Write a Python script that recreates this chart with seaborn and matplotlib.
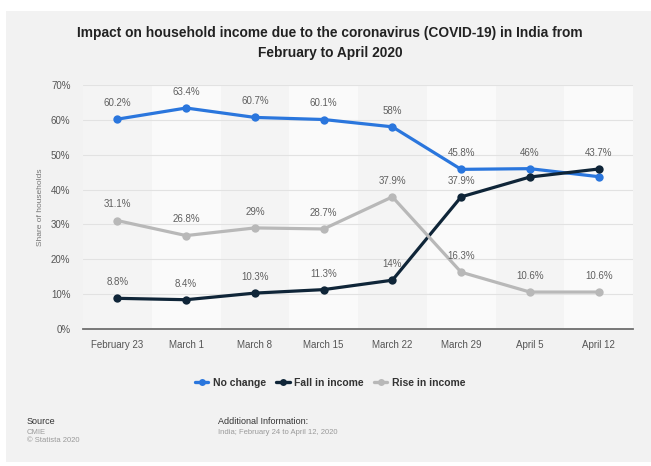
import matplotlib
matplotlib.use("Agg")
import matplotlib.pyplot as plt
import seaborn as sns
import pandas as pd
from matplotlib.patches import Rectangle
from matplotlib.lines import Line2D

categories = ["February 23", "March 1", "March 8", "March 15", "March 22",
              "March 29", "April 5", "April 12"]
no_change = [60.2, 63.4, 60.7, 60.1, 58.0, 45.8, 46.0, 43.7]
fall_in_income = [8.8, 8.4, 10.3, 11.3, 14.0, 37.9, 43.6, 45.9]
rise_in_income = [31.1, 26.8, 29.0, 28.7, 37.9, 16.3, 10.6, 10.6]
y_ticks = [0, 10, 20, 30, 40, 50, 60, 70]
series_names = ["No change", "Fall in income", "Rise in income"]
colors = {"No change": "#2a76dd", "Fall in income": "#0f2538", "Rise in income": "#b8b8b8"}

sns.set_theme(style="white")
plt.rcParams["font.family"] = ["Liberation Sans", "DejaVu Sans"]

rows = []
for name, vals in zip(series_names, [no_change, fall_in_income, rise_in_income]):
    for i, (c, v) in enumerate(zip(categories, vals)):
        rows.append({"x": i, "cat": c, "value": v, "series": name})
df = pd.DataFrame(rows)

fig = plt.figure(figsize=(6.51, 4.66), dpi=100, facecolor="white")
fig.patches.append(Rectangle((6 / 651, 4 / 466), 1 - 6 / 651, 1 - 15 / 466,
                             transform=fig.transFigure, facecolor="#f2f2f2",
                             edgecolor="none", zorder=-10))
ax = fig.add_axes([83 / 651, 1 - 329 / 466, 550 / 651, 244 / 466])
ax.set_facecolor("#f4f4f4")

# alternating column stripes
for i in range(len(categories)):
    if i % 2 == 1:
        ax.axvspan(i - 0.5, i + 0.5, color="#fafafa", zorder=0, lw=0)

for y in y_ticks[1:]:
    ax.axhline(y, color="#e2e2e2", lw=0.8, zorder=1)

sns.lineplot(data=df, x="x", y="value", hue="series", palette=colors,
             hue_order=series_names, marker="o", markersize=6,
             markeredgewidth=0, linewidth=2.3, ax=ax, legend=False, zorder=3)

# data labels
hidden = {("Fall in income", 6), ("Fall in income", 7)}
for name, vals in zip(series_names, [no_change, fall_in_income, rise_in_income]):
    for i, v in enumerate(vals):
        if (name, i) in hidden:
            continue
        ypos = v
        if name == "No change" and i == 7:
            ypos = max(v, fall_in_income[i])
        txt = f"{v:g}%"
        ax.annotate(txt, (i, ypos), xytext=(0, 8), textcoords="offset points",
                    ha="center", va="bottom", fontsize=7, color="#606060", zorder=4)

ax.set_xlim(-0.5, len(categories) - 0.5)
ax.set_ylim(0, 70)
ax.set_xticks(range(len(categories)))
ax.set_xticklabels(categories, fontsize=7, color="#555555")
ax.set_yticks(y_ticks)
ax.set_yticklabels([f"{t}%" for t in y_ticks], fontsize=7, color="#555555")
ax.tick_params(axis="x", length=0, pad=8)
ax.tick_params(axis="y", length=0, pad=9)
ax.set_xlabel("")
ax.set_ylabel("Share of households", fontsize=6, color="#777777", labelpad=5)
for s in ["top", "right", "left"]:
    ax.spines[s].set_visible(False)
ax.spines["bottom"].set_color("#6e6e6e")
ax.spines["bottom"].set_linewidth(1.3)
ax.spines["bottom"].set_zorder(5)

fig.text(0.507, 1 - 43 / 466,
         "Impact on household income due to the coronavirus (COVID-19) in India from\nFebruary to April 2020",
         ha="center", va="center", fontsize=9.9, fontweight="bold", color="#222222",
         linespacing=1.6)

handles = [Line2D([0], [0], color=colors[n], lw=2.4, marker="o", markersize=5,
                  markeredgewidth=0) for n in series_names]
leg = fig.legend(handles, series_names, loc="center", bbox_to_anchor=(0.507, 1 - 383 / 466),
                 ncol=3, frameon=False, fontsize=7.5, handlelength=1.3,
                 handletextpad=0.4, columnspacing=1.0)
for t in leg.get_texts():
    t.set_fontweight("bold")
    t.set_color("#333333")

fig.text(27 / 651, 1 - 422 / 466, "Source", fontsize=6.5, color="#333333", va="center")
fig.text(27 / 651, 1 - 432 / 466, "CMIE", fontsize=5.5, color="#9a9a9a", va="center")
fig.text(27 / 651, 1 - 441 / 466, "\u00a9 Statista 2020", fontsize=5.5, color="#9a9a9a", va="center")
fig.text(218 / 651, 1 - 422 / 466, "Additional Information:", fontsize=6.5, color="#333333", va="center")
fig.text(218 / 651, 1 - 432 / 466, "India; February 24 to April 12, 2020", fontsize=5.5,
         color="#9a9a9a", va="center")

fig.savefig("out.png", dpi=100, facecolor=fig.get_facecolor())
